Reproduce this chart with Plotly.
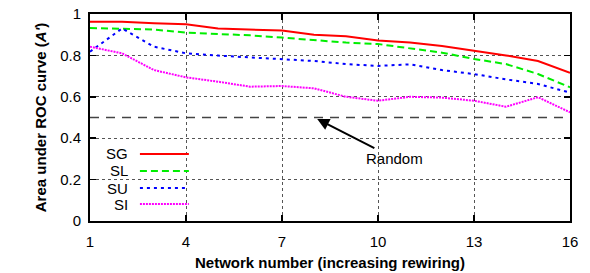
import plotly.graph_objects as go

network = list(range(1, 17))
SG = [0.963, 0.962, 0.955, 0.951, 0.930, 0.925, 0.920, 0.900, 0.893, 0.872, 0.862, 0.845, 0.822, 0.800, 0.773, 0.716]
SL = [0.932, 0.929, 0.925, 0.910, 0.905, 0.897, 0.886, 0.874, 0.862, 0.855, 0.834, 0.813, 0.783, 0.758, 0.710, 0.646]
SU = [0.818, 0.930, 0.842, 0.810, 0.799, 0.791, 0.781, 0.773, 0.758, 0.749, 0.757, 0.729, 0.710, 0.684, 0.662, 0.620]
SI = [0.842, 0.810, 0.729, 0.694, 0.673, 0.649, 0.652, 0.641, 0.600, 0.581, 0.600, 0.596, 0.581, 0.552, 0.598, 0.525]
random_x = [1, 16]
random_y = [0.5, 0.5]
x_ticks = [1, 4, 7, 10, 13, 16]
y_ticks = [0, 0.2, 0.4, 0.6, 0.8, 1]

FONT = "Liberation Sans, Arial, sans-serif"

series = [
    ("SG", SG, "#ff0000", "solid"),
    ("SL", SL, "#00ee00", "7px,4px"),
    ("SU", SU, "#0000ff", "3px,4px"),
    ("SI", SI, "#ff00ff", "2px,1px"),
]

fig = go.Figure()
fig.add_trace(go.Scatter(x=random_x, y=random_y, mode="lines",
                         line=dict(color="#444444", width=1.5, dash="9px,7px"),
                         showlegend=False, hoverinfo="skip"))
for name, vals, col, dash in series:
    fig.add_trace(go.Scatter(x=network, y=vals, mode="lines", name=name,
                             line=dict(color=col, width=2, dash=dash), showlegend=False))

# white legend box hiding grid
fig.add_shape(type="rect", xref="paper", yref="paper", x0=0.003, x1=0.227, y0=0.005, y1=0.367,
              fillcolor="white", line=dict(width=0), layer="between")

legend_y = [0.324, 0.242, 0.159, 0.082]
for (name, vals, col, dash), ly in zip(series, legend_y):
    fig.add_shape(type="line", xref="paper", yref="paper", x0=0.104, x1=0.206, y0=ly, y1=ly,
                  line=dict(color=col, width=2, dash=dash))
    fig.add_annotation(xref="paper", yref="paper", x=0.083, y=ly, text=name, showarrow=False,
                       xanchor="right", yanchor="middle", height=15, valign="middle",
                       font=dict(family=FONT, size=15, color="black"))

fig.add_annotation(x=8.1, y=0.493, xref="x", yref="y", ax=10.5, ay=0.304, axref="x", ayref="y",
                   text="Random", showarrow=True, arrowhead=2, arrowsize=1.2, arrowwidth=2,
                   arrowcolor="black", standoff=0, startstandoff=0,
                   font=dict(family=FONT, size=15, color="black"))

axis_common = dict(showline=True, linecolor="black", linewidth=2, mirror="ticks",
                   ticks="inside", ticklen=6, tickwidth=1.5, tickcolor="black",
                   showgrid=True, gridcolor="#555555", gridwidth=1, griddash="dot",
                   zeroline=False, automargin=False,
                   tickfont=dict(family=FONT, size=15, color="black"))

fig.update_xaxes(range=[1, 16], tickvals=x_ticks, ticktext=[str(v) for v in x_ticks],
                 ticklabelstandoff=6,
                 title=dict(text="<b>Network number (increasing rewiring)</b>",
                            font=dict(family=FONT, size=15, color="black"), standoff=8),
                 **axis_common)
fig.update_yaxes(range=[0, 1], tickvals=y_ticks, ticktext=["0", "0.2", "0.4", "0.6", "0.8", "1"],
                 ticklabelstandoff=4,
                 title=dict(text="<b>Area under ROC curve (<i>A'</i>)</b>",
                            font=dict(family=FONT, size=15, color="black"), standoff=10),
                 **axis_common)

fig.update_layout(width=590, height=273, margin=dict(l=90, r=20, t=14, b=52),
                  plot_bgcolor="white", paper_bgcolor="white", showlegend=False)

# remove the default 8px page margin so the figure fills the window exactly
fig.write_html("out.html", config={"displayModeBar": False, "staticPlot": True},
               post_script="document.body.style.margin='0px';")
